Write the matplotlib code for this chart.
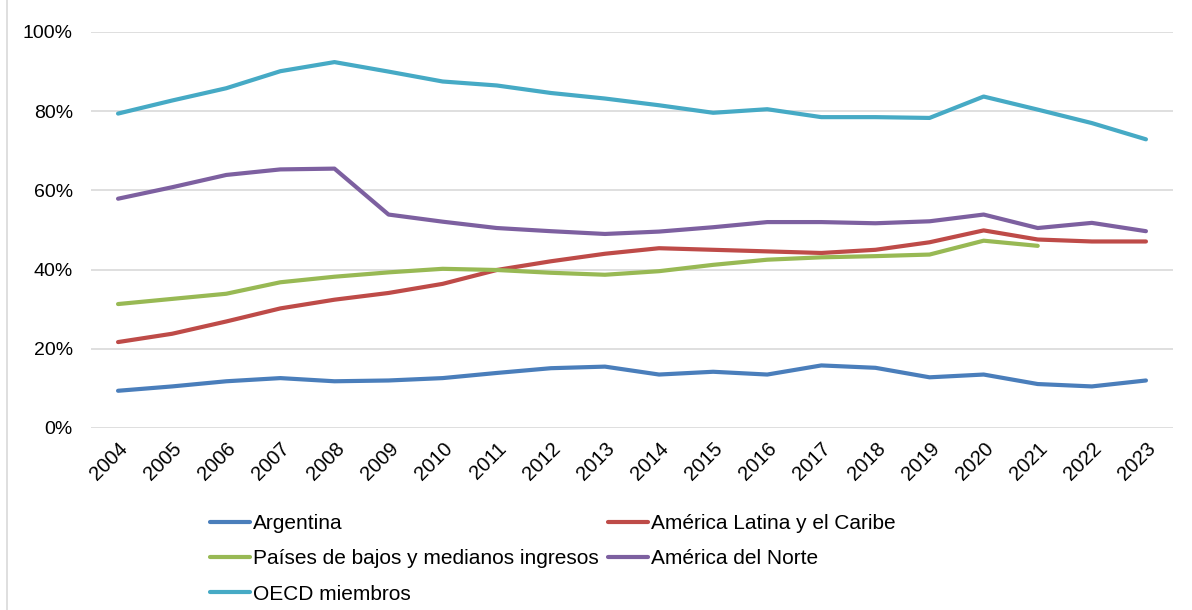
import matplotlib
matplotlib.use("Agg")
import matplotlib.pyplot as plt
from matplotlib.lines import Line2D
from matplotlib.ticker import FuncFormatter

years = [str(y) for y in range(2004, 2024)]

argentina = [9.4, 10.5, 11.8, 12.6, 11.8, 12.0, 12.6, 13.9, 15.1, 15.5,
             13.5, 14.2, 13.5, 15.8, 15.2, 12.8, 13.5, 11.1, 10.5, 12.0]
america_latina = [21.7, 23.8, 26.9, 30.2, 32.4, 34.1, 36.4, 39.9, 42.1, 44.0,
                  45.4, 45.0, 44.6, 44.2, 45.0, 46.9, 49.9, 47.6, 47.1, 47.1]
bajos_medianos = [31.3, 32.6, 33.9, 36.8, 38.2, 39.3, 40.2, 39.9, 39.2, 38.7,
                  39.6, 41.2, 42.5, 43.1, 43.4, 43.8, 47.3, 46.0, None, None]
america_norte = [57.9, 60.8, 63.9, 65.3, 65.5, 53.9, 52.1, 50.5, 49.7, 49.0,
                 49.6, 50.7, 52.0, 52.0, 51.7, 52.2, 53.9, 50.5, 51.8, 49.7]
oecd = [79.4, 82.7, 85.8, 90.1, 92.4, 90.0, 87.5, 86.5, 84.6, 83.2,
        81.5, 79.6, 80.5, 78.5, 78.5, 78.3, 83.7, 80.4, 77.0, 72.9]

series = [
    ("Argentina", argentina, "#4A7EBB"),
    ("América Latina y el Caribe", america_latina, "#BE4B48"),
    ("Países de bajos y medianos ingresos", bajos_medianos, "#98B954"),
    ("América del Norte", america_norte, "#7D60A0"),
    ("OECD miembros", oecd, "#46AAC5"),
]

plt.rcParams["font.family"] = ["Liberation Sans", "DejaVu Sans"]

fig = plt.figure(figsize=(11.92, 6.10), dpi=100)
ax = fig.add_axes([91 / 1192, 1 - 428 / 610, 1082 / 1192, 396 / 610])

x = list(range(len(years)))
handles = []
for name, vals, color in series:
    xs = [i for i, v in zip(x, vals) if v is not None]
    ys = [v for v in vals if v is not None]
    h, = ax.plot(xs, ys, color=color, lw=3.0, label=name,
                 solid_capstyle="round", solid_joinstyle="round")
    handles.append(h)

ax.set_xlim(-0.5, len(years) - 0.5)
ax.set_ylim(0, 100)
ax.set_yticks(range(0, 101, 20))
ax.yaxis.set_major_formatter(FuncFormatter(lambda v, p: f"{int(v)}%"))
ax.set_xticks(x)
ax.set_xticklabels(years, rotation=45, ha="right", rotation_mode="anchor")
ax.tick_params(axis="both", length=0, colors="#000000")
ax.tick_params(axis="y", pad=13, labelsize=14)
ax.tick_params(axis="x", pad=8, labelsize=14.5)
ax.grid(axis="y", color="#D9D9D9", lw=1.2)
ax.set_axisbelow(True)
for s in ax.spines.values():
    s.set_visible(False)

# thin border on the left edge of the chart area
fig.add_artist(Line2D([7 / 1192, 7 / 1192], [0, 1], color="#D9D9D9", lw=1.2,
                      transform=fig.transFigure))

# legend filled row by row: two entries per row
order = [0, 2, 4, 1, 3]
fig.legend([handles[i] for i in order], [series[i][0] for i in order],
           loc="upper left", bbox_to_anchor=(210 / 1192, 1 - 514 / 610),
           ncol=2, frameon=False, fontsize=15, handlelength=1.92,
           handletextpad=0.15, columnspacing=0.45, labelspacing=0.78,
           borderaxespad=0, borderpad=0)

fig.savefig("out.png", dpi=100, facecolor="white")
